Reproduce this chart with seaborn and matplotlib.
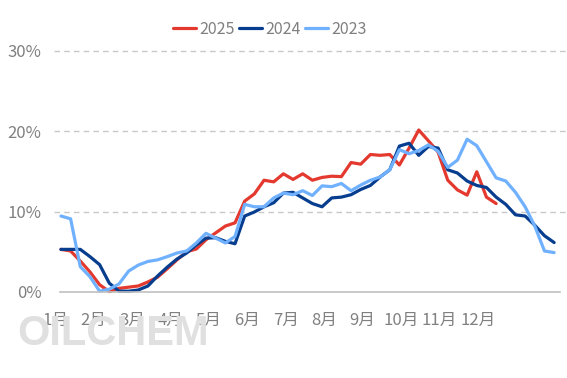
import numpy as np
import pandas as pd
import matplotlib
matplotlib.use('Agg')
import matplotlib.pyplot as plt
import seaborn as sns

# weekly values, percent
y2025 = [5.3, 5.1, 3.85, 2.5, 0.9, 0.05, 0.45, 0.6, 0.75, 1.25,
         1.85, 2.9, 4.0, 5.0, 5.35, 6.5, 7.35, 8.2, 8.6, 11.3,
         12.2, 13.9, 13.7, 14.7, 14.0, 14.7, 13.9, 14.25, 14.4, 14.35,
         16.1, 15.9, 17.1, 17.0, 17.1, 15.8, 17.9, 20.15, 18.8, 17.4,
         13.9, 12.7, 12.05, 14.95, 11.8, 11.0]
y2024 = [5.3, 5.3, 5.3, 4.4, 3.4, 1.1, 0.1, 0.1, 0.25, 0.75,
         2.0, 3.1, 4.1, 4.85, 5.85, 6.7, 6.75, 6.3, 6.0, 9.45,
         9.95, 10.6, 11.1, 12.3, 12.4, 11.7, 11.0, 10.6, 11.7, 11.8,
         12.1, 12.75, 13.25, 14.3, 15.2, 18.15, 18.5, 17.0, 18.1, 17.9,
         15.2, 14.8, 13.8, 13.25, 13.0, 11.8, 10.9, 9.6, 9.45, 8.3,
         7.0, 6.15]
y2023 = [9.45, 9.1, 3.15, 1.9, 0.1, 0.35, 1.0, 2.6, 3.35, 3.8,
         4.0, 4.4, 4.85, 5.1, 6.1, 7.3, 6.7, 6.1, 6.9, 10.9,
         10.6, 10.6, 11.7, 12.3, 12.1, 12.6, 12.0, 13.2, 13.1, 13.5,
         12.6, 13.3, 13.9, 14.3, 15.2, 17.7, 17.2, 17.6, 18.3, 17.5,
         15.5, 16.4, 19.0, 18.2, 16.2, 14.2, 13.8, 12.4, 10.6, 8.2,
         5.1, 4.9]
months = ['1月', '2月', '3月', '4月', '5月', '6月',
          '7月', '8月', '9月', '10月', '11月', '12月']
years = ['2025', '2024', '2023']
y_ticks = [0, 10, 20, 30]

colors = ['#E3392E', '#073D8E', '#70B1FF']
grey = '#808080'

rows = []
for yr, vals in zip(years, [y2025, y2024, y2023]):
    for i, v in enumerate(vals):
        rows.append({'week': i, 'value': v, 'year': yr})
df = pd.DataFrame(rows)

sns.set_style('white')
plt.rcParams['font.family'] = ['Noto Sans CJK SC', 'DejaVu Sans']

fig = plt.figure(figsize=(5.67, 3.78), dpi=100)
ax = fig.add_axes([0.0952, 0.2169, 0.9048, 0.670])

sns.lineplot(data=df, x='week', y='value', hue='year', hue_order=years,
             palette=colors, linewidth=2.3, legend=False, ax=ax,
             clip_on=False)

ax.set_xlim(-0.72, 52.33)
ax.set_ylim(-0.5, 31.0)

# y axis
ax.set_yticks(y_ticks)
ax.set_yticklabels([f'{t}%' for t in y_ticks])
ax.tick_params(axis='y', length=0, pad=9, labelsize=12, labelcolor=grey)
ax.yaxis.grid(True, linestyle=(0, (4, 3)), color='#c8c8c8', linewidth=1)
ax.get_ygridlines()[0].set_visible(False)

# x axis
for s in ['left', 'right', 'top']:
    ax.spines[s].set_visible(False)
ax.spines['bottom'].set_position(('data', 0))
ax.spines['bottom'].set_color('#c0c0c0')
ax.spines['bottom'].set_linewidth(1.2)
ax.spines['bottom'].set_bounds(-0.1, 51.6)
ax.set_xticks(np.linspace(-0.1, 51.6, 13))
ax.set_xticklabels([])
ax.tick_params(axis='x', which='major', direction='in', length=4,
               color='#c0c0c0', width=1.2)
ax.set_xticks(np.linspace(-0.6, 43.1, 12), minor=True)
ax.set_xticklabels(months, minor=True)
ax.tick_params(axis='x', which='minor', length=0, pad=14,
               labelsize=12, labelcolor=grey)
ax.set_xlabel('')
ax.set_ylabel('')

handles = ax.get_lines()[:3]
fig.legend(handles, years, loc='center', bbox_to_anchor=(0.476, 0.923),
           ncol=3, frameon=False, fontsize=11.5, labelcolor=grey,
           handlelength=1.45, handletextpad=0.2, columnspacing=0.25)

fig.text(0.03, 0.088, 'OILCHEM', fontsize=30, fontweight='bold',
         family='Liberation Sans', color='#e0e0e0', zorder=0)

fig.savefig('out.png', dpi=100)
